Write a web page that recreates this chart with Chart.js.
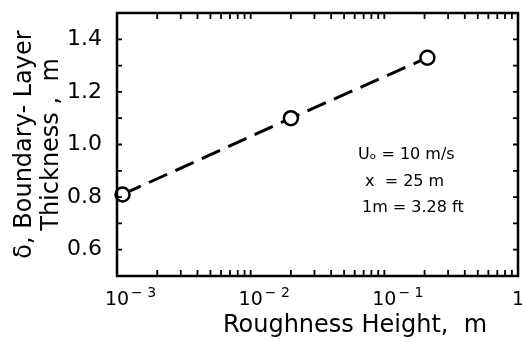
<!DOCTYPE html>
<html>
<head>
<meta charset="utf-8">
<script src="https://cdn.jsdelivr.net/npm/chart.js@4/dist/chart.umd.min.js"></script>
<style>
  html, body { margin: 0; padding: 0; background: #fff; }
  #wrap { width: 522px; height: 342px; }
</style>
</head>
<body>
<div id="wrap"><canvas id="bl"></canvas></div>
<script>
// roughness height (m) vs boundary-layer thickness (m)
const roughness = [0.0011, 0.02, 0.21];
const thickness = [0.81, 1.10, 1.33];

const xMajor = [0.001, 0.01, 0.1, 1];
const xBase = ["10", "10", "10", "1"];
const xExp = ["-3", "-2", "-1", ""];
const yLabels = [0.6, 0.8, 1.0, 1.2, 1.4];
const notes = ["U\u2092 = 10 m/s", "x  = 25 m", "1m = 3.28 ft"];

const FONT = "'DejaVu Sans', sans-serif";
const ink = "#000";

// frame, inward ticks on all four sides, x labels, x title, notes
const framePlugin = {
  id: "frame",
  afterDraw(chart) {
    const { ctx, chartArea: a, scales } = chart;
    const x = scales.x, y = scales.y;
    ctx.save();
    ctx.strokeStyle = ink;
    ctx.lineWidth = 2.5;
    ctx.strokeRect(a.left, a.top, a.right - a.left, a.bottom - a.top);

    ctx.lineWidth = 1.8;
    ctx.beginPath();
    for (let d = -3; d < 0; d++) {
      for (let m = 1; m <= 9; m++) {
        const px = x.getPixelForValue(m * Math.pow(10, d));
        ctx.moveTo(px, a.bottom); ctx.lineTo(px, a.bottom - 6);
        ctx.moveTo(px, a.top); ctx.lineTo(px, a.top + 6);
      }
    }
    for (let i = 5; i <= 15; i++) {
      const py = y.getPixelForValue(i / 10);
      ctx.moveTo(a.left, py); ctx.lineTo(a.left + 5, py);
      ctx.moveTo(a.right, py); ctx.lineTo(a.right - 5, py);
    }
    ctx.stroke();

    // decade labels with raised exponents
    ctx.fillStyle = ink;
    ctx.textBaseline = "alphabetic";
    xMajor.forEach((v, i) => {
      const px = x.getPixelForValue(v);
      ctx.font = "19px " + FONT;
      const w = ctx.measureText(xBase[i]).width;
      ctx.textAlign = "left";
      ctx.fillText(xBase[i], px - w / 2, a.bottom + 29);
      if (xExp[i]) {
        ctx.font = "14px " + FONT;
        ctx.fillText(xExp[i].replace("-", "\u2212 "), px + w / 2 + 2, a.bottom + 21);
      }
    });

    ctx.font = "24px " + FONT;
    ctx.textAlign = "center";
    ctx.textBaseline = "middle";
    ctx.fillText("Roughness Height,  m", 355, a.bottom + 50);

    ctx.font = "16px " + FONT;
    ctx.textAlign = "left";
    notes.forEach((t, i) => {
      ctx.fillText(t, [358, 365, 362][i], [155, 182, 208][i]);
    });
    ctx.restore();
  }
};

new Chart(document.getElementById("bl"), {
  type: "line",
  data: {
    datasets: [
      {
        data: roughness.map((r, i) => ({ x: r, y: thickness[i] })),
        borderColor: ink,
        borderWidth: 3,
        borderDash: [20, 9],
        pointRadius: 7,
        pointBorderWidth: 2.5,
        pointBackgroundColor: "#fff",
        pointBorderColor: ink,
        clip: false,
        tension: 0,
      },
    ],
  },
  options: {
    responsive: true,
    maintainAspectRatio: false,
    animation: false,
    layout: { autoPadding: false, padding: { top: 13, right: 4 } },
    plugins: { legend: { display: false }, tooltip: { enabled: false } },
    scales: {
      x: {
        type: "logarithmic",
        min: 0.001,
        max: 1,
        grid: { display: false },
        border: { display: false },
        ticks: { display: false },
        afterFit(scale) {
          scale.height = 66;
          scale.paddingLeft = 0;
          scale.paddingRight = 0;
        },
      },
      y: {
        min: 0.5,
        max: 1.5,
        grid: { display: false },
        border: { display: false },
        afterBuildTicks(scale) {
          scale.ticks = yLabels.map((v) => ({ value: v }));
        },
        ticks: {
          color: ink,
          padding: 7,
          font: { family: FONT, size: 22 },
          callback: (v) => v.toFixed(1),
        },
        title: {
          display: true,
          text: ["\u03b4, Boundary- Layer", "Thickness ,  m"],
          color: ink,
          font: { family: FONT, size: 24, lineHeight: 1.12 },
          padding: { top: 11, bottom: 0 },
        },
        afterFit(scale) {
          scale.width = 117;
          scale.paddingTop = 0;
          scale.paddingBottom = 0;
        },
      },
    },
  },
  plugins: [framePlugin],
});
</script>
</body>
</html>
